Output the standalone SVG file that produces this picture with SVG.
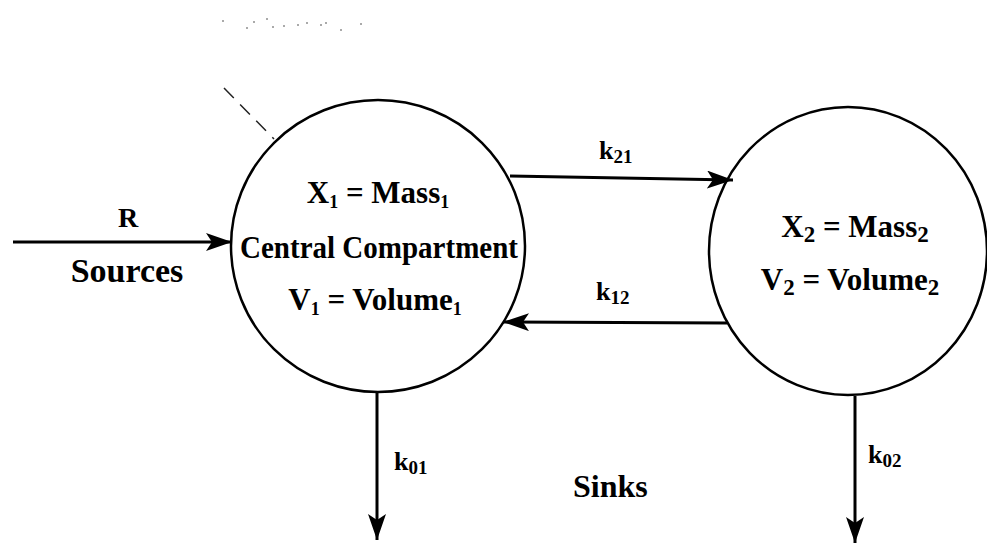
<svg xmlns="http://www.w3.org/2000/svg" width="987" height="544" viewBox="0 0 987 544">
<style>
.t{font-family:"Liberation Serif","Times New Roman",serif;font-weight:bold;fill:#000}
.c{fill:none;stroke:#000;stroke-width:2.5}
.a{fill:none;stroke:#000;stroke-width:3;marker-end:url(#ah)}
.big{font-size:31px}
.k{font-size:26px}
.sub{font-size:19px}
</style>
<defs>
<marker id="ah" markerUnits="userSpaceOnUse" markerWidth="28" markerHeight="20" refX="26" refY="9" orient="auto">
<path d="M0,0 L26,9 L0,18 L6,9 z" fill="#000"/>
</marker>
</defs>
<rect width="987" height="544" fill="#fff"/>
<g id="annotation" fill="#aaa">
<rect x="222" y="20" width="2" height="2"/><rect x="246" y="27" width="2" height="2"/><rect x="253" y="21" width="2" height="2"/>
<rect x="266" y="18" width="2" height="2"/><rect x="272" y="26" width="2" height="2"/><rect x="283" y="25" width="2" height="2"/>
<rect x="297" y="24" width="2" height="2"/><rect x="306" y="22" width="2" height="2"/><rect x="320" y="24" width="2" height="2"/>
<rect x="325" y="22" width="2" height="2"/><rect x="340" y="29" width="2" height="2"/><rect x="360" y="23" width="2" height="2"/>
<line x1="224" y1="88" x2="274" y2="139" stroke="#222" stroke-width="1.5" stroke-dasharray="14 9"/>
</g>
<g id="central">
<ellipse class="c" cx="378" cy="246" rx="147" ry="146"/>
<text class="t big" x="378" y="203" text-anchor="middle">X<tspan font-size="18" dy="5">1</tspan><tspan dy="-5"> = Mass</tspan><tspan font-size="18" dy="5">1</tspan></text>
<text class="t big" x="379" y="258" text-anchor="middle" textLength="278" lengthAdjust="spacingAndGlyphs">Central Compartment</text>
<text class="t big" x="375" y="310" text-anchor="middle">V<tspan font-size="18" dy="5">1</tspan><tspan dy="-5"> = Volume</tspan><tspan font-size="18" dy="5">1</tspan></text>
</g>
<g id="peripheral">
<ellipse class="c" cx="848" cy="251" rx="139" ry="144"/>
<text class="t big" x="855" y="237" text-anchor="middle">X<tspan font-size="23" dy="5">2</tspan><tspan dy="-5"> = Mass</tspan><tspan font-size="23" dy="5">2</tspan></text>
<text class="t big" x="850" y="290" text-anchor="middle">V<tspan font-size="23" dy="5">2</tspan><tspan dy="-5"> = Volume</tspan><tspan font-size="23" dy="5">2</tspan></text>
</g>
<g id="connectors">
<line class="a" x1="13" y1="242" x2="232" y2="242"/>
<line class="a" x1="510" y1="176" x2="733" y2="180"/>
<line class="a" x1="727" y1="323" x2="503" y2="322"/>
<line class="a" x1="377" y1="392" x2="377" y2="540"/>
<line class="a" x1="855" y1="396" x2="855" y2="543"/>
</g>
<g id="labels">
<text class="t" x="128" y="227" font-size="28" text-anchor="middle">R</text>
<text class="t" x="127" y="282" font-size="34" text-anchor="middle">Sources</text>
<text class="t k" x="599" y="159">k<tspan class="sub" dy="4">21</tspan></text>
<text class="t k" x="596" y="300">k<tspan class="sub" dy="4">12</tspan></text>
<text class="t k" x="394" y="470">k<tspan class="sub" dy="4">01</tspan></text>
<text class="t k" x="868" y="463">k<tspan class="sub" dy="4">02</tspan></text>
<text class="t" x="573" y="497" font-size="32">Sinks</text>
</g>
</svg>
